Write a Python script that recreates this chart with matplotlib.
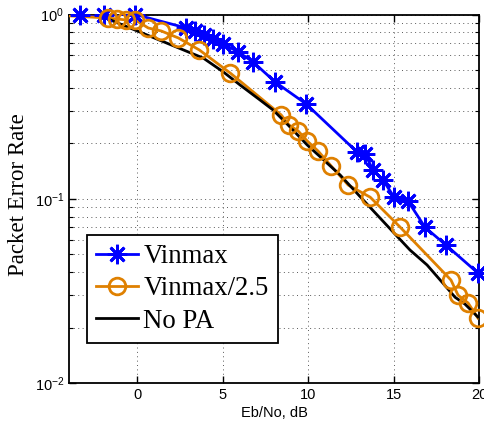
import numpy as np
import matplotlib
matplotlib.use("Agg")
import matplotlib.pyplot as plt
from matplotlib.ticker import LogLocator, FixedLocator, NullFormatter

plt.rcParams['font.family'] = ['Liberation Sans', 'DejaVu Sans']
plt.rcParams['mathtext.fontset'] = 'custom'
plt.rcParams['mathtext.rm'] = 'Liberation Sans'
plt.rcParams['mathtext.it'] = 'Liberation Sans:italic'

# Data (Eb/No in dB, packet error rate)
vinmax_x = [-4.6, -3.33, -1.93, -0.12, 2.87, 3.39, 3.92, 4.44, 5.03, 5.91, 6.78,
            8.07, 9.88, 12.87, 13.33, 13.80, 14.39, 15.03, 15.85, 16.84, 18.07, 19.94]
vinmax_y = [1.0, 1.0, 1.0, 1.0, 0.845, 0.814, 0.774, 0.736, 0.692, 0.626, 0.552,
            0.430, 0.327, 0.179, 0.175, 0.143, 0.126, 0.102, 0.097, 0.070, 0.056, 0.0395]

vin25_x = [-4.6, -1.70, -1.17, -0.64, -0.12, 0.64, 1.40, 2.40, 3.63, 5.44, 8.42,
           8.89, 9.42, 9.94, 10.58, 11.35, 12.34, 13.63, 15.38, 18.36, 18.77, 19.36, 19.94]
vin25_y = [0.99, 0.957, 0.945, 0.934, 0.934, 0.845, 0.814, 0.746, 0.642, 0.481, 0.285,
           0.251, 0.233, 0.206, 0.1815, 0.1505, 0.1187, 0.102, 0.0702, 0.0362, 0.030, 0.0272, 0.0225]

nopa_x = [-1.99, 3.86, 5.03, 6.02, 7.19, 7.95, 8.83, 9.94, 11.87, 13.22, 14.97,
          15.96, 16.96, 17.89, 18.6, 19.18, 19.94]
nopa_y = [0.969, 0.580, 0.488, 0.414, 0.343, 0.303, 0.251, 0.196, 0.1346, 0.0985, 0.066,
          0.0527, 0.0437, 0.0348, 0.0292, 0.0268, 0.0228]

labels = ['Vinmax', 'Vinmax/2.5', 'No PA']
x_ticks = [0, 5, 10, 15, 20]
xlim = (-4, 20)
ylim = (1e-2, 1)

blue = '#0000FF'
orange = '#DF8000'

fig = plt.figure(figsize=(4.84, 4.28), dpi=100)
ax = fig.add_axes([0.1426, 0.1051, 0.8471, 0.8610])

def draw(x, y, color, marker, ms, label):
    x = np.asarray(x); y = np.asarray(y)
    ax.plot(x, y, color=color, lw=2, zorder=3)
    m = (x >= xlim[0]) & (x <= xlim[1])
    ax.plot(x[m], y[m], linestyle='none', marker=marker, ms=ms, mec=color,
            mfc='none', mew=2, clip_on=False, zorder=4)
    ax.plot([], [], color=color, lw=2, marker=marker, ms=ms, mec=color,
            mfc='none', mew=2, label=label)

draw(vinmax_x, vinmax_y, blue, (8, 2, 0), 14, labels[0])
draw(vin25_x, vin25_y, orange, 'o', 12, labels[1])
ax.plot(nopa_x, nopa_y, color='black', lw=2, zorder=3, label=labels[2])

ax.set_yscale('log')
ax.set_xlim(*xlim)
ax.set_ylim(*ylim)
ax.xaxis.set_major_locator(FixedLocator(x_ticks))
ax.yaxis.set_major_locator(LogLocator(base=10, numticks=10))
ax.yaxis.set_minor_locator(LogLocator(base=10, subs=np.arange(2, 10), numticks=20))
ax.yaxis.set_minor_formatter(NullFormatter())

ax.grid(True, which='major', linestyle=(0, (1, 3.5)), color='0.35', lw=0.7)
ax.grid(True, which='minor', axis='y', linestyle=(0, (1, 3.5)), color='0.35', lw=0.7)

ax.tick_params(which='both', direction='in', top=True, right=True, labelsize=10.5)
ax.tick_params(which='major', length=5, width=1)
ax.tick_params(which='minor', length=3, width=0.8)
for s in ax.spines.values():
    s.set_linewidth(1.3)

ax.set_xlabel('Eb/No, dB', fontsize=10.5, labelpad=3)
ax.set_ylabel('Packet Error Rate', fontsize=16.5, family='Liberation Serif')
ax.yaxis.set_label_coords(-0.097, 0.51)

leg = ax.legend(loc='upper left', bbox_to_anchor=(0.044, 0.402), borderaxespad=0,
                fancybox=False, edgecolor='black', framealpha=1,
                prop={'family': 'Liberation Serif', 'size': 19.3},
                handlelength=1.55, handletextpad=0.2, borderpad=0.35, labelspacing=0.27,
                numpoints=1)
leg.get_frame().set_linewidth(1.3)

fig.savefig('out.png', dpi=100)
